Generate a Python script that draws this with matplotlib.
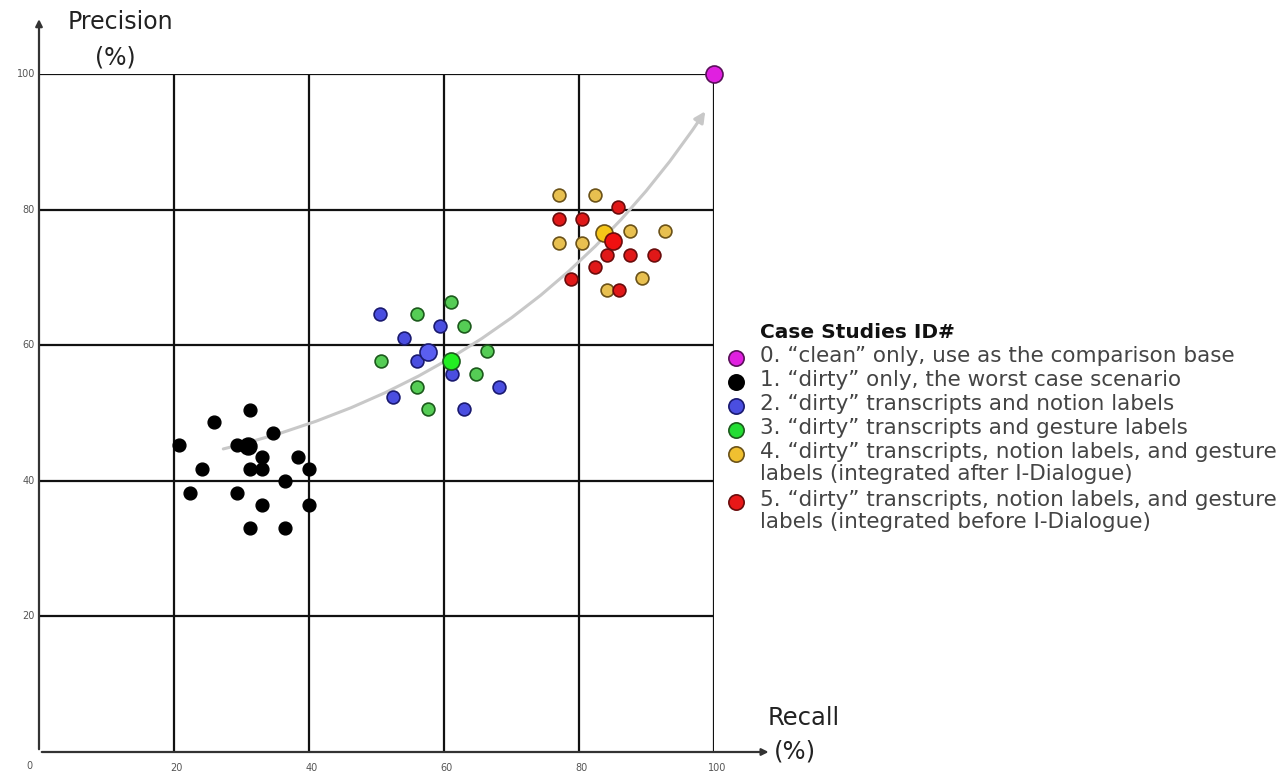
import numpy as np
import matplotlib.pyplot as plt
from matplotlib.path import Path
from matplotlib.patches import FancyArrowPatch
from matplotlib.lines import Line2D

# Case 1 - "dirty" only
black_x = [31.2, 26.0, 34.7, 20.7, 29.4, 33.0, 38.3, 24.2, 31.2, 33.1, 40.0, 36.4, 22.4, 29.4, 33.0, 40.0, 31.2, 36.4]
black_y = [50.5, 48.7, 47.0, 45.3, 45.3, 43.5, 43.5, 41.7, 41.7, 41.7, 41.7, 40.0, 38.2, 38.2, 36.4, 36.4, 33.0, 33.0]
black_mean = (31.0, 45.1)

# Case 2 - transcripts + notion labels
blue_x = [50.5, 59.4, 54.1, 56.0, 61.2, 68.2, 52.4, 62.9]
blue_y = [64.6, 62.8, 61.0, 57.6, 55.7, 53.9, 52.3, 50.6]
blue_mean = (57.6, 59.0)

# Case 3 - transcripts + gesture labels
green_x = [61.1, 56.0, 63.0, 66.3, 50.6, 64.7, 56.0, 57.7]
green_y = [66.3, 64.6, 62.8, 59.2, 57.6, 55.8, 53.9, 50.6]
green_mean = (61.1, 57.7)

# Case 4 - integrated after I-Dialogue
yellow_x = [77.0, 82.3, 87.6, 92.8, 77.0, 80.5, 89.4, 84.1]
yellow_y = [82.2, 82.2, 76.8, 76.8, 75.1, 75.1, 69.9, 68.1]
yellow_mean = (83.7, 76.6)

# Case 5 - integrated before I-Dialogue
red_x = [85.8, 77.0, 80.5, 84.1, 87.6, 91.1, 82.4, 78.8, 85.9]
red_y = [80.4, 78.6, 78.6, 73.3, 73.3, 73.3, 71.5, 69.8, 68.1]
red_mean = (85.0, 75.3)

# Case 0 - clean
clean = (100, 100)

ticks = [20, 40, 60, 80, 100]

legend_title = "Case Studies ID#"
legend_labels = [
    '0. \u201cclean\u201d only, use as the comparison base',
    '1. \u201cdirty\u201d only, the worst case scenario',
    '2. \u201cdirty\u201d transcripts and notion labels',
    '3. \u201cdirty\u201d transcripts and gesture labels',
    '4. \u201cdirty\u201d transcripts, notion labels, and gesture\nlabels (integrated after I-Dialogue)',
    '5. \u201cdirty\u201d transcripts, notion labels, and gesture\nlabels (integrated before I-Dialogue)',
]
legend_colors = [('#e020e0', '#5a105a'), ('#000000', '#000000'), ('#4a4ee0', '#1a1a70'),
                 ('#22dd33', '#1c5a1c'), ('#f0c030', '#6b5218'), ('#e81818', '#6a0c0c')]

W, H = 1288, 771
fig = plt.figure(figsize=(W / 100, H / 100), dpi=100)
ax = fig.add_axes([39 / W, 19 / H, 675 / W, 678 / H])
ax.set_xlim(0, 100)
ax.set_ylim(0, 100)
ax.axis('off')

# grid box
for t in ticks:
    ax.plot([t, t], [0, 100], color='#111111', lw=1.6, zorder=1)
    ax.plot([0, 100], [t, t], color='#111111', lw=1.6, zorder=1)

# axes with arrows
ax.annotate('', xy=(108.5, 0), xytext=(0, 0), annotation_clip=False,
            arrowprops=dict(arrowstyle='-|>', color='#333333', lw=1.6, mutation_scale=10))
ax.annotate('', xy=(0, 108.5), xytext=(0, 0), annotation_clip=False,
            arrowprops=dict(arrowstyle='-|>', color='#333333', lw=1.6, mutation_scale=10))

for t in ticks:
    ax.text(-0.6, t, str(t), ha='right', va='center', fontsize=7, color='#555555')
    ax.text(t + 0.4, -1.6, str(t), ha='center', va='top', fontsize=7, color='#555555')
ax.text(-1.0, -1.3, '0', ha='right', va='top', fontsize=7, color='#555555')

ax.text(12.0, 107.7, 'Precision', ha='center', va='center', fontsize=17, color='#222222')
ax.text(11.3, 102.5, '(%)', ha='center', va='center', fontsize=17, color='#222222')
ax.text(108.0, 5.0, 'Recall', ha='left', va='center', fontsize=17.5, color='#222222')
ax.text(108.8, 0.0, '(%)', ha='left', va='center', fontsize=17.5, color='#222222')

# trend arrow (quadratic curve)
p0, p1, p2 = (27.3, 44.7), (72.8, 55.6), (98.7, 94.5)
path = Path([p0, p1, p2], [Path.MOVETO, Path.CURVE3, Path.CURVE3])
arr = FancyArrowPatch(path=path, arrowstyle='-|>', color='#c8c8c8', lw=2.2,
                      mutation_scale=16, zorder=2)
ax.add_patch(arr)

small = 85
big = 150
ax.scatter(black_x, black_y, s=small, c='#000000', zorder=3)
ax.scatter(*black_mean, s=big, c='#000000', zorder=4)
ax.scatter(blue_x, blue_y, s=small, c='#4a4ee0', edgecolors='#1a1a70', lw=1.2, zorder=3)
ax.scatter(green_x, green_y, s=small, c='#55cc55', edgecolors='#1c5a1c', lw=1.2, zorder=3)
ax.scatter(*blue_mean, s=big, c='#5a5ef0', edgecolors='#1a1a70', lw=1.2, zorder=4)
ax.scatter(*green_mean, s=big, c='#22ee22', edgecolors='#1c5a1c', lw=1.2, zorder=4)
ax.scatter(yellow_x, yellow_y, s=small, c='#e8c050', edgecolors='#6b5218', lw=1.2, zorder=3)
ax.scatter(red_x, red_y, s=small, c='#e01818', edgecolors='#6a0c0c', lw=1.2, zorder=3)
ax.scatter(*yellow_mean, s=big, c='#f5c518', edgecolors='#6b5218', lw=1.2, zorder=4)
ax.scatter(*red_mean, s=big, c='#f01010', edgecolors='#6a0c0c', lw=1.2, zorder=5)
ax.scatter(*clean, s=big, c='#e020e0', edgecolors='#5a105a', lw=1.2, zorder=4, clip_on=False)

# legend drawn manually
fig.text(760 / W, 1 - 332 / H, legend_title, fontsize=14.5, fontweight='bold',
         color='#111111', va='center', ha='left')
rows = [358, 382, 406, 430, 454, 502]
for y, lab, (fc, ec) in zip(rows, legend_labels, legend_colors):
    fig.add_artist(Line2D([736 / W], [1 - y / H], marker='o', markersize=11,
                          markerfacecolor=fc, markeredgecolor=ec, markeredgewidth=1.2,
                          transform=fig.transFigure))
    fig.text(760 / W, 1 - (y - 12) / H, lab, fontsize=15.5, color='#444444',
             va='top', ha='left', linespacing=1.12)

fig.savefig('out.png', dpi=100)
